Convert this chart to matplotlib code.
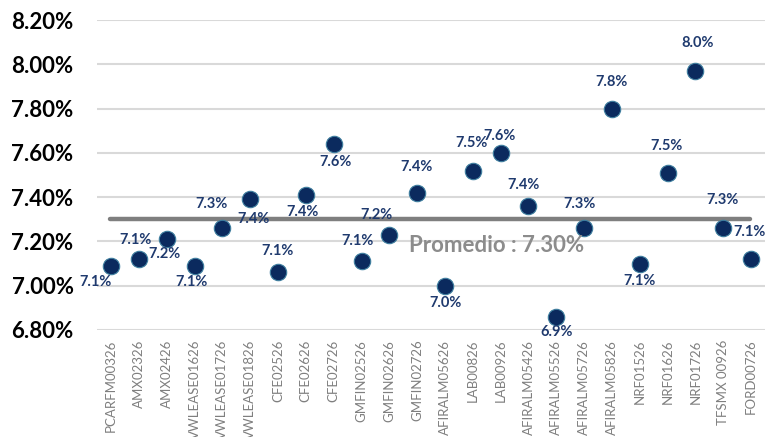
import matplotlib.pyplot as plt
import numpy as np

plt.rcParams['font.family'] = ['Lato', 'DejaVu Sans']

# emisiones y tasas (%)
bonos = ['PCARFM00326', 'AMX02326', 'AMX02426', 'VWLEASE01626', 'VWLEASE01726',
         'VWLEASE01826', 'CFE02526', 'CFE02626', 'CFE02726', 'GMFIN02526',
         'GMFIN02626', 'GMFIN02726', 'AFIRALM05626', 'LAB00826', 'LAB00926',
         'AFIRALM05426', 'AFIRALM05526', 'AFIRALM05726', 'AFIRALM05826',
         'NRF01526', 'NRF01626', 'NRF01726', 'TFSMX 00926', 'FORD00726']
tasas = [7.09, 7.12, 7.21, 7.09, 7.26, 7.39, 7.06, 7.41, 7.64, 7.11,
         7.23, 7.42, 7.00, 7.52, 7.60, 7.36, 6.86, 7.26, 7.80,
         7.10, 7.51, 7.97, 7.26, 7.12]
promedio = 7.30

# donde va cada etiqueta (px respecto al punto, y hacia arriba)
offs_px = [(-16, -16), (-3, 19), (-2, -15), (-3, -16), (-11, 24),
           (3, -20), (0, 21), (-3, -17), (2, -18), (-4, 20),
           (-13, 20), (-1, 26), (1, -17), (-1, 28), (-1, 17),
           (-5, 21), (0, -15), (-5, 24), (0, 27),
           (0, -17), (-1, 27), (2, 28), (-1, 28), (-2, 27)]

fig = plt.figure(figsize=(7.65, 4.37), dpi=100)
ax = fig.add_axes([0.127, 0.245, 0.873, 0.709])

x = np.arange(len(bonos))
ax.set_axisbelow(True)
ax.grid(axis='y', color='#d9d9d9', lw=1.5)
ax.hlines(promedio, -0.05, len(bonos) - 1.05, color='#7f7f7f', lw=3.2, zorder=2,
          capstyle='round')
ax.scatter(x, tasas, s=140, color='#0b2a5e', edgecolor='#3f7f9f', lw=0.8, zorder=3)

for i, v in enumerate(tasas):
    dx, dy = offs_px[i]
    ax.annotate(f'{v:.1f}%', (i, v), xytext=(dx * 0.72, dy * 0.72),
                textcoords='offset points', ha='center', va='center',
                fontsize=10.5, fontweight='bold', color='#1f3a6e', zorder=4)

ax.text(13.85, 7.182, 'Promedio : 7.30%', ha='center', va='center', fontsize=16,
        fontweight='bold', color='#8c8c8c')

ax.set_xlim(-0.5, len(bonos) - 0.5)
ax.set_ylim(6.8, 8.2)
yt = np.arange(6.8, 8.21, 0.2)
ax.set_yticks(yt)
ax.set_yticklabels([f'{t:.2f}%' for t in yt], fontsize=16, fontweight='bold')
ax.set_xticks(x)
ax.set_xticklabels(bonos, rotation=90, fontsize=9.5, color='#7f7f7f')
ax.tick_params(length=0)
ax.tick_params(axis='x', pad=7)
ax.tick_params(axis='y', pad=17)
for s in ax.spines.values():
    s.set_visible(False)

fig.savefig('out.png', dpi=100)
